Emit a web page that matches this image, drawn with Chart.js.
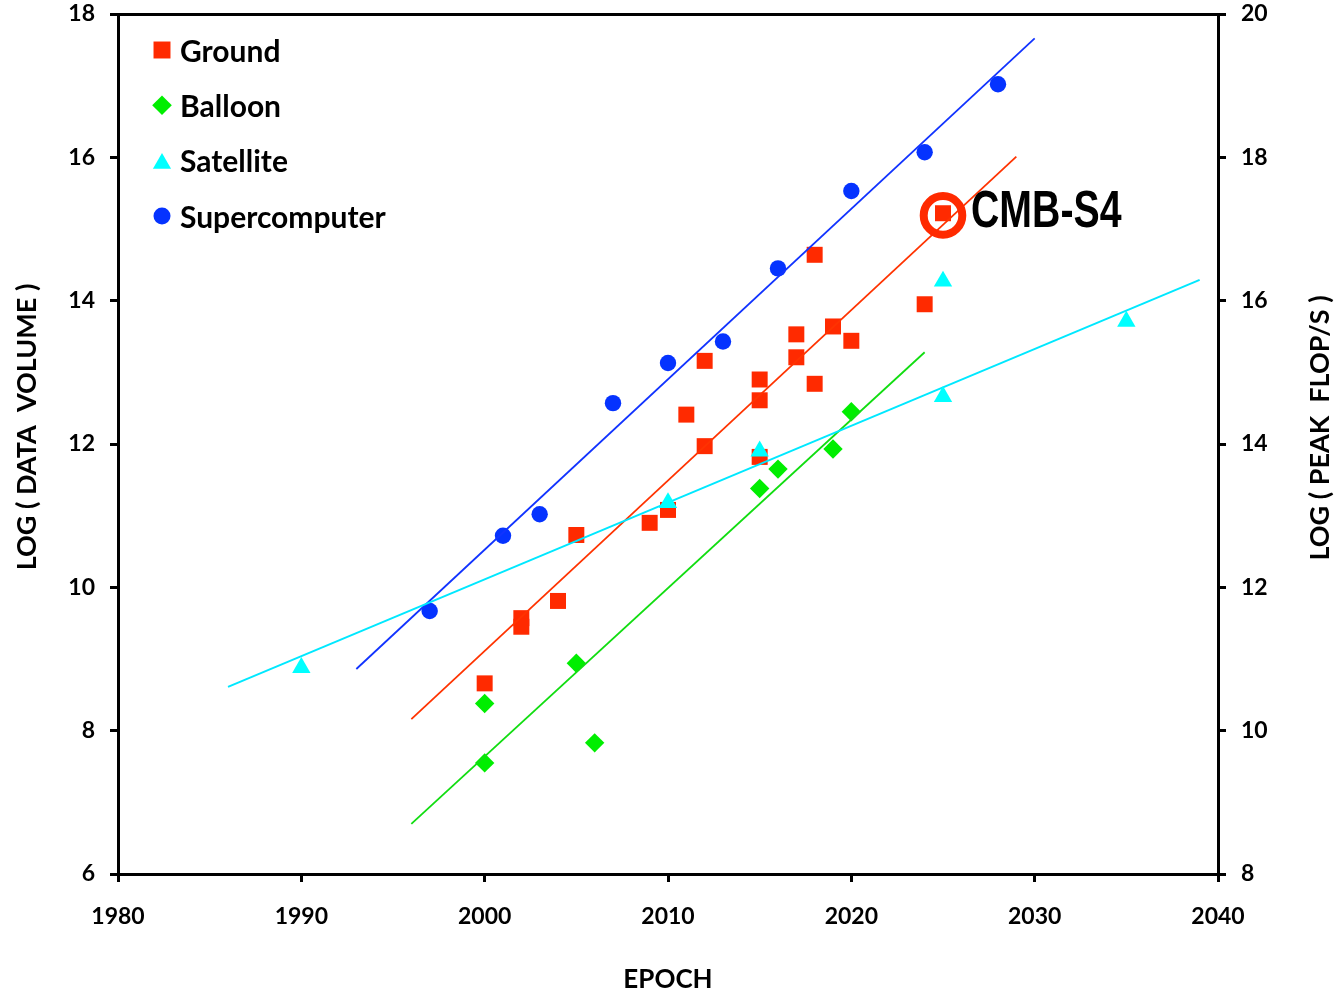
<!DOCTYPE html>
<html>
<head>
<meta charset="utf-8">
<script src="https://cdn.jsdelivr.net/npm/chart.js@4/dist/chart.umd.min.js"></script>
<style>
  html, body { margin: 0; padding: 0; background: #ffffff; }
  #wrap { width: 1338px; height: 995px; }
</style>
</head>
<body>
<div id="wrap"><canvas id="c" width="1338" height="995"></canvas></div>
<script>
// ---------------- DATA ----------------
const seriesNames = ['Ground', 'Balloon', 'Satellite', 'Supercomputer'];

// Ground experiments : year, log(data volume)
const groundYears  = [2000, 2002, 2002, 2004, 2005, 2009, 2010, 2011, 2012, 2012, 2015, 2015, 2015, 2017, 2017, 2018, 2018, 2019, 2020, 2024, 2025];
const groundValues = [8.66, 9.57, 9.45, 9.81, 10.73, 10.90, 11.08, 12.41, 13.16, 11.97, 11.82, 12.61, 12.90, 13.21, 13.53, 12.84, 14.64, 13.64, 13.44, 13.95, 15.22];

// Balloon experiments
const balloonYears  = [2000, 2000, 2005, 2006, 2015, 2016, 2019, 2020];
const balloonValues = [8.38, 7.55, 8.94, 7.83, 11.38, 11.65, 11.93, 12.45];

// Satellite experiments
const satelliteYears  = [1990, 2010, 2015, 2025, 2025, 2035];
const satelliteValues = [8.88, 11.18, 11.90, 14.27, 12.66, 13.71];

// Supercomputers : year, log(peak flop/s)  (right axis)
const superYears  = [1997, 2001, 2003, 2007, 2010, 2013, 2016, 2020, 2024, 2028];
const superValues = [11.67, 12.72, 13.02, 14.57, 15.13, 15.43, 16.45, 17.53, 18.07, 19.02];

// Trend lines (end points)
const groundTrendYears     = [1996, 2029];
const groundTrendValues    = [8.16, 16.01];
const balloonTrendYears    = [1996, 2024];
const balloonTrendValues   = [6.70, 13.28];
const satelliteTrendYears  = [1986, 2039];
const satelliteTrendValues = [8.61, 14.29];
const superTrendYears      = [1993, 2030];
const superTrendValues     = [10.86, 19.66];

// Highlighted point
const highlightLabel = 'CMB-S4';
const highlightYear  = [2025];
const highlightValue = [15.22];
const ringValue      = [15.19];

// Axes
const xRange      = [1980, 2040];
const xStep       = 10;
const yLeftRange  = [6, 18];
const yRightRange = [8, 20];
const yStep       = 2;
const xTitle      = 'EPOCH';
const yLeftTitle  = 'LOG ( DATA  VOLUME )';
const yRightTitle = 'LOG ( PEAK  FLOP/S )';

// ---------------- STYLE ----------------
const COL = {
  ground: '#FF2A00', balloon: '#00EE00', satellite: '#00FFFF', supercomputer: '#0533FF',
  groundLine: '#FF3300', balloonLine: '#11DD11', satelliteLine: '#00E8FF', superLine: '#1133FF'
};
const FONT = 'Lato, "Open Sans", "DejaVu Sans", sans-serif';

function pts(xs, ys) { return xs.map((x, i) => ({ x: x, y: ys[i] })); }

const datasets = [
  { label: 'Satellite', data: pts(satelliteYears, satelliteValues), pointStyle: 'triangle', pointRadius: 10.6,
    backgroundColor: COL.satellite, borderColor: COL.satellite, borderWidth: 0, yAxisID: 'y', showLine: false },
  { label: '_cmb', data: pts(highlightYear, ringValue), pointStyle: 'circle', pointRadius: 19.3,
    backgroundColor: 'rgba(0,0,0,0)', borderColor: '#FF2A00', borderWidth: 8, yAxisID: 'y', showLine: false },
  { label: '_satLine', data: pts(satelliteTrendYears, satelliteTrendValues), showLine: true, pointRadius: 0,
    borderColor: COL.satelliteLine, borderWidth: 2, yAxisID: 'y' },
  { label: '_groundLine', data: pts(groundTrendYears, groundTrendValues), showLine: true, pointRadius: 0,
    borderColor: COL.groundLine, borderWidth: 1.8, yAxisID: 'y' },
  { label: '_balloonLine', data: pts(balloonTrendYears, balloonTrendValues), showLine: true, pointRadius: 0,
    borderColor: COL.balloonLine, borderWidth: 1.8, yAxisID: 'y' },
  { label: '_superLine', data: pts(superTrendYears, superTrendValues), showLine: true, pointRadius: 0,
    borderColor: COL.superLine, borderWidth: 1.8, yAxisID: 'y2' },
  { label: 'Ground', data: pts(groundYears, groundValues), pointStyle: 'rect', pointRadius: 11.3,
    backgroundColor: COL.ground, borderColor: COL.ground, borderWidth: 0, yAxisID: 'y', showLine: false },
  { label: 'Balloon', data: pts(balloonYears, balloonValues), pointStyle: 'rectRot', pointRadius: 9.7,
    backgroundColor: COL.balloon, borderColor: COL.balloon, borderWidth: 0, yAxisID: 'y', showLine: false },
  { label: 'Supercomputer', data: pts(superYears, superValues), pointStyle: 'circle', pointRadius: 8.2,
    backgroundColor: COL.supercomputer, borderColor: COL.supercomputer, borderWidth: 0, yAxisID: 'y2', showLine: false }
];

function drawMarker(ctx, style, r, x, y, color) {
  ctx.save();
  ctx.fillStyle = color;
  ctx.strokeStyle = color;
  ctx.lineWidth = 0;
  if (Chart.helpers && Chart.helpers.drawPoint) {
    Chart.helpers.drawPoint(ctx, { pointStyle: style, radius: r, rotation: 0, borderWidth: 0 }, x, y);
  } else {
    ctx.beginPath();
    if (style === 'rect') { const s = r * Math.SQRT1_2; ctx.rect(x - s, y - s, 2 * s, 2 * s); }
    else if (style === 'rectRot') { ctx.moveTo(x - r, y); ctx.lineTo(x, y - r); ctx.lineTo(x + r, y); ctx.lineTo(x, y + r); ctx.closePath(); }
    else if (style === 'triangle') { ctx.moveTo(x, y - r); ctx.lineTo(x + 0.866 * r, y + r / 2); ctx.lineTo(x - 0.866 * r, y + r / 2); ctx.closePath(); }
    else { ctx.arc(x, y, r, 0, Math.PI * 2); }
    ctx.fill();
  }
  ctx.restore();
}

const decorations = {
  id: 'decorations',
  afterDraw(chart) {
    const ctx = chart.ctx;
    const area = chart.chartArea;
    const xs = chart.scales.x, ys = chart.scales.y;

    // Legend (inside plot, top-left)
    const legendStyles = [
      { name: seriesNames[0], style: 'rect', r: 12, color: COL.ground },
      { name: seriesNames[1], style: 'rectRot', r: 9.8, color: COL.balloon },
      { name: seriesNames[2], style: 'triangle', r: 10.5, color: COL.satellite },
      { name: seriesNames[3], style: 'circle', r: 8.5, color: COL.supercomputer }
    ];
    ctx.save();
    ctx.font = 'bold 30px ' + FONT;
    ctx.textBaseline = 'middle';
    ctx.textAlign = 'left';
    ctx.fillStyle = '#000';
    legendStyles.forEach((it, i) => {
      const cy = area.top + 36 + i * 55.3;
      const my = it.style === 'triangle' ? cy + 3 : cy;
      drawMarker(ctx, it.style, it.r, area.left + 44, my, it.color);
      ctx.fillStyle = '#000';
      ctx.fillText(it.name, area.left + 62, cy + 2);
    });
    ctx.restore();

    // Y axis titles (both read bottom-to-top)
    ctx.save();
    ctx.font = 'bold 27px ' + FONT;
    ctx.fillStyle = '#000';
    ctx.textAlign = 'center';
    ctx.textBaseline = 'middle';
    ctx.translate(27, 427);
    ctx.rotate(-Math.PI / 2);
    ctx.fillText(yLeftTitle, 0, 0);
    ctx.restore();

    ctx.save();
    ctx.font = 'bold 27px ' + FONT;
    ctx.fillStyle = '#000';
    ctx.textAlign = 'center';
    ctx.textBaseline = 'middle';
    ctx.translate(1320, 428);
    ctx.rotate(-Math.PI / 2);
    ctx.fillText(yRightTitle, 0, 0);
    ctx.restore();

    // CMB-S4 label next to the highlighted point
    const px = xs.getPixelForValue(highlightYear[0]);
    const py = ys.getPixelForValue(highlightValue[0]);
    ctx.save();
    ctx.font = 'bold 51px "Liberation Sans", Arial, sans-serif';
    ctx.fillStyle = '#000';
    ctx.textAlign = 'left';
    ctx.textBaseline = 'middle';
    ctx.translate(px + 28, py);
    ctx.scale(0.77, 1);
    ctx.fillText(highlightLabel, 0, 0);
    ctx.restore();
  }
};

const tickFont = { family: FONT, size: 23, weight: 'bold' };
const axisGrid = { display: true, drawOnChartArea: false, drawTicks: true, tickLength: 8, color: '#000', lineWidth: 3 };
const axisBorder = { display: true, color: '#000', width: 3 };
function noPad(s) { s.paddingTop = 0; s.paddingBottom = 0; s.paddingLeft = 0; s.paddingRight = 0; }

new Chart(document.getElementById('c'), {
  type: 'scatter',
  data: { datasets: datasets },
  options: {
    responsive: false,
    animation: false,
    layout: { autoPadding: false, padding: { top: 14, left: 0, right: 0, bottom: 0 } },
    plugins: { legend: { display: false }, tooltip: { enabled: false } },
    scales: {
      x: {
        type: 'linear', position: 'bottom', min: xRange[0], max: xRange[1],
        ticks: { stepSize: xStep, color: '#000', font: tickFont, padding: 21, maxRotation: 0,
                 callback: v => String(v) },
        grid: axisGrid, border: axisBorder,
        title: { display: true, text: xTitle, color: '#000', font: { family: FONT, size: 26, weight: 'bold' }, padding: { top: 0, bottom: 0 } },
        afterFit: s => { s.height = 121; noPad(s); }
      },
      xTop: {
        type: 'linear', position: 'top', min: xRange[0], max: xRange[1],
        ticks: { display: false }, grid: { display: false, drawTicks: false }, border: axisBorder,
        afterFit: s => { s.height = 0; noPad(s); }
      },
      y: {
        type: 'linear', position: 'left', min: yLeftRange[0], max: yLeftRange[1],
        ticks: { stepSize: yStep, color: '#000', font: tickFont, padding: 15 },
        grid: axisGrid, border: axisBorder,
        afterFit: s => { s.width = 118; noPad(s); }
      },
      y2: {
        type: 'linear', position: 'right', min: yRightRange[0], max: yRightRange[1],
        ticks: { stepSize: yStep, color: '#000', font: tickFont, padding: 15 },
        grid: axisGrid, border: axisBorder,
        afterFit: s => { s.width = 120; noPad(s); }
      }
    }
  },
  plugins: [decorations]
});
</script>
</body>
</html>
